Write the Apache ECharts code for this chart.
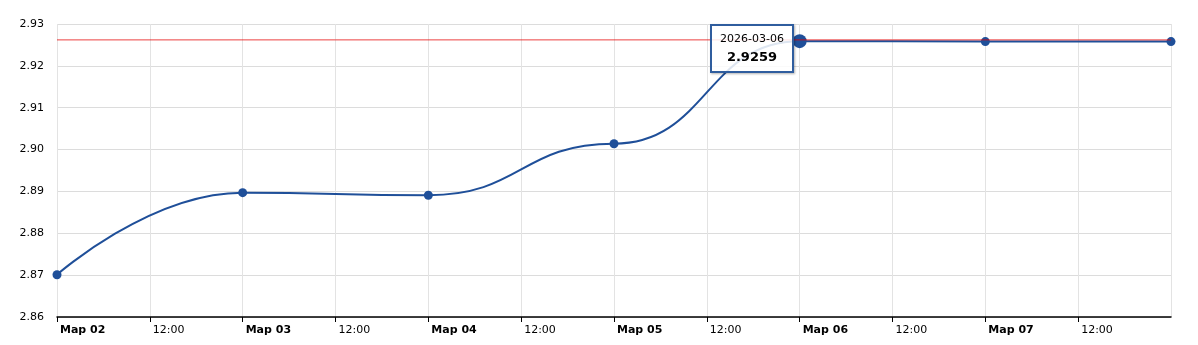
<!DOCTYPE html>
<html>
<head>
<meta charset="utf-8">
<script src="https://cdn.jsdelivr.net/npm/echarts@6/dist/echarts.min.js"></script>
<style>html,body{margin:0;padding:0;background:#fff;}#c{width:1198px;height:345px;}</style>
</head>
<body>
<div id="c"></div>
<script>
// x positions in days from 2026-03-02
const dayLabels = ['Мар 02', 'Мар 03', 'Мар 04', 'Мар 05', 'Мар 06', 'Мар 07', 'Мар 08'];
const halfDayLabel = '12:00';
const dates = ['2026-03-02', '2026-03-03', '2026-03-04', '2026-03-05', '2026-03-06', '2026-03-07', '2026-03-08'];
const dayIndex = [0, 1, 2, 3, 4, 5, 6];
const values = [2.8701, 2.8897, 2.8891, 2.9014, 2.9259, 2.9258, 2.9258];
const refLineValue = 2.9262;
const highlightIndex = 4;

const FONT = 'Verdana, "DejaVu Sans", sans-serif';

const seriesData = dayIndex.map((d, i) => {
  const item = { value: [d, values[i]] };
  if (i === highlightIndex) item.symbolSize = 14;
  return item;
});

const chart = echarts.init(document.getElementById('c'), null, { renderer: 'canvas' });
chart.setOption({
  animation: false,
  backgroundColor: '#fff',
  grid: { left: 57, right: 27, top: 24, bottom: 28, containLabel: false },
  tooltip: {
    trigger: 'item',
    alwaysShowContent: true,
    triggerOn: 'none',
    transitionDuration: 0,
    position: [710, 24],
    backgroundColor: 'rgba(255,255,255,0.85)',
    borderColor: '#2f5d9e',
    borderWidth: 2,
    borderRadius: 0,
    padding: [4, 8, 5, 8],
    extraCssText: 'box-shadow:1px 1px 2px rgba(0,0,0,0.3);',
    formatter: p => '<div style="text-align:center;font-family:Verdana,\'DejaVu Sans\',sans-serif;color:#000;">' +
      '<div style="font-size:11px;line-height:17px;">' + dates[p.dataIndex] + '</div>' +
      '<div style="font-size:13px;line-height:19px;font-weight:bold;">' + values[p.dataIndex].toFixed(4) + '</div></div>'
  },
  xAxis: {
    type: 'value',
    min: 0,
    max: 6,
    interval: 0.5,
    axisLine: { show: true, lineStyle: { color: '#000', width: 1.5 } },
    axisTick: { show: true, length: 5, lineStyle: { color: '#000', width: 1 } },
    splitLine: { show: true, lineStyle: { color: '#e3e3e3', width: 1 } },
    axisLabel: {
      showMaxLabel: false,
      align: 'left',
      margin: 8,
      padding: [0, 0, 0, 3],
      fontFamily: FONT,
      fontSize: 11,
      color: '#000',
      formatter: v => {
        if (Math.abs(v - Math.round(v)) < 1e-6) return '{d|' + dayLabels[Math.round(v)] + '}';
        return '{h|' + halfDayLabel + '}';
      },
      rich: {
        d: { fontFamily: FONT, fontSize: 11, fontWeight: 'bold', color: '#000' },
        h: { fontFamily: FONT, fontSize: 11, color: '#000' }
      }
    }
  },
  yAxis: {
    type: 'value',
    min: 2.86,
    max: 2.93,
    interval: 0.01,
    axisLine: { show: false },
    axisTick: { show: false },
    splitLine: { show: true, lineStyle: { color: '#dcdcdc', width: 1 } },
    axisLabel: {
      margin: 13,
      fontFamily: FONT,
      fontSize: 11,
      color: '#000',
      formatter: v => v.toFixed(2)
    }
  },
  series: [{
    type: 'line',
    data: seriesData,
    smooth: 0.5,
    smoothMonotone: 'x',
    symbol: 'circle',
    symbolSize: 9,
    lineStyle: { color: '#1f4f99', width: 2 },
    itemStyle: { color: '#1f4f99' },
    emphasis: { scale: false, focus: 'none', lineStyle: { width: 2 } },
    z: 2
  }, {
    type: 'line',
    data: [[dayIndex[0], refLineValue], [dayIndex[dayIndex.length - 1], refLineValue]],
    symbol: 'none',
    silent: true,
    tooltip: { show: false },
    lineStyle: { color: 'rgba(230,0,0,0.75)', width: 1 },
    z: 3
  }]
});
chart.dispatchAction({ type: 'showTip', seriesIndex: 0, dataIndex: highlightIndex });
</script>
</body>
</html>
